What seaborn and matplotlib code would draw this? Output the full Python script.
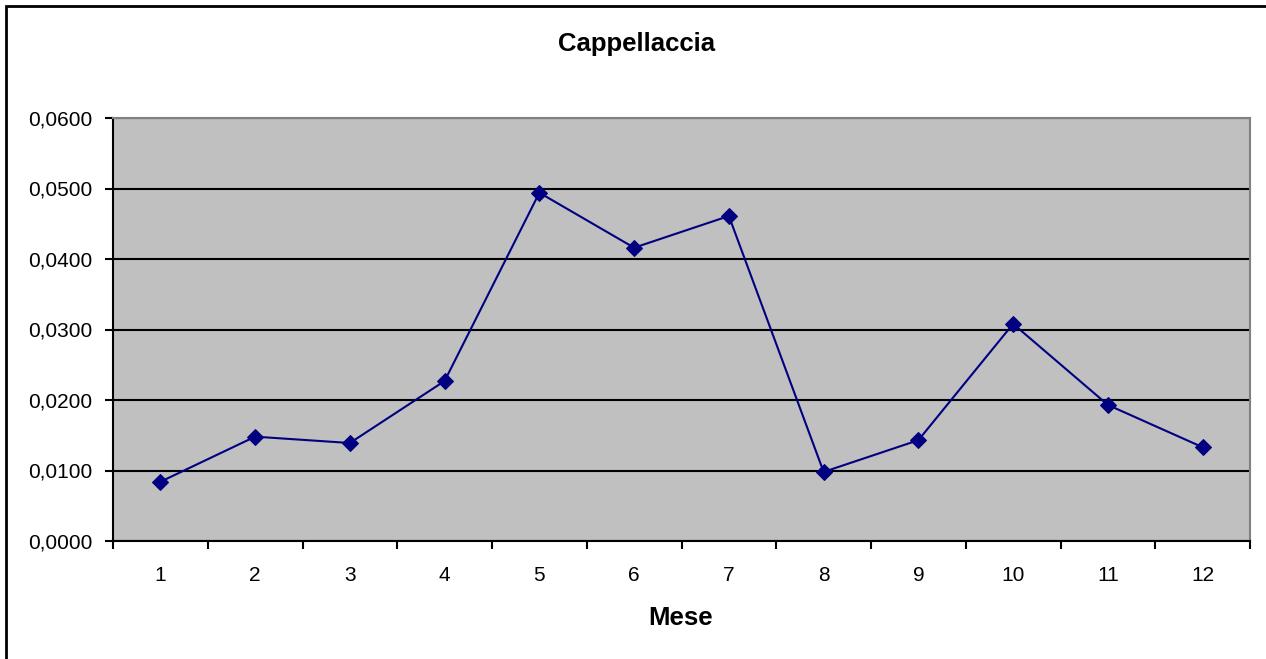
import matplotlib
matplotlib.use("Agg")
import matplotlib.pyplot as plt
import matplotlib.ticker as mticker
from matplotlib.patches import Rectangle
import numpy as np
import pandas as pd
import seaborn as sns

months = ["1", "2", "3", "4", "5", "6", "7", "8", "9", "10", "11", "12"]
values = [0.0084, 0.0148, 0.0139, 0.0227, 0.0494, 0.0416, 0.0461,
          0.0098, 0.0143, 0.0308, 0.0193, 0.0133]
title = "Cappellaccia"
xlabel = "Mese"

sns.set_theme(style="white")
plt.rcParams['font.family'] = ['Liberation Sans', 'DejaVu Sans']

W, H = 1266, 659
fig = plt.figure(figsize=(W / 100, H / 100), dpi=100)
ax = fig.add_axes([113 / W, 1 - 541 / H, (1250 - 113) / W, (541 - 118) / H])
ax.set_facecolor("#C0C0C0")

df = pd.DataFrame({"pos": np.arange(len(months)), "val": values})
sns.lineplot(data=df, x="pos", y="val", ax=ax, color="#000080", linewidth=1.5,
             marker="D", markersize=8.5, markeredgecolor="#000080", zorder=5)

ax.set_xlim(-0.5, len(months) - 0.5)
ax.set_ylim(0, 0.06)
ax.yaxis.set_major_locator(mticker.MultipleLocator(0.01))
ax.yaxis.set_major_formatter(mticker.FuncFormatter(lambda v, p: f"{v:.4f}".replace(".", ",")))
ax.grid(axis="y", color="black", linewidth=1.5)
ax.set_axisbelow(True)

# x ticks at category boundaries, labels at centers
ax.xaxis.set_major_locator(mticker.FixedLocator(np.arange(-0.5, len(months), 1.0)))
ax.xaxis.set_major_formatter(mticker.NullFormatter())
ax.xaxis.set_minor_locator(mticker.FixedLocator(np.arange(len(months))))
ax.xaxis.set_minor_formatter(mticker.FixedFormatter(months))
ax.tick_params(axis="x", which="major", direction="out", length=6, width=1.5,
               color="black", bottom=True)
ax.tick_params(axis="x", which="minor", length=0, labelsize=15, pad=18,
               labelcolor="black", bottom=True)
ax.tick_params(axis="y", which="major", direction="out", length=6, width=1.5,
               color="black", labelsize=15, pad=9, left=True, labelcolor="black")

for s in ["left", "bottom"]:
    ax.spines[s].set_color("black")
    ax.spines[s].set_linewidth(1.5)
for s in ["top", "right"]:
    ax.spines[s].set_color("#808080")
    ax.spines[s].set_linewidth(1.5)

ax.set_xlabel("")
ax.set_ylabel("")
fig.text(681 / W, 1 - 625 / H, xlabel, ha="center", va="baseline",
         fontsize=18.5, fontweight="bold", color="black")
fig.text(637 / W, 1 - 51 / H, title, ha="center", va="baseline",
         fontsize=18.5, fontweight="bold", color="black")

# outer chart border (top & left visible)
fig.add_artist(Rectangle((6 / W, -0.2), 2, 1.2 - 6 / H, transform=fig.transFigure,
                         fill=False, edgecolor="black", linewidth=2, clip_on=False))

fig.savefig("out.png", dpi=100, facecolor="white")
